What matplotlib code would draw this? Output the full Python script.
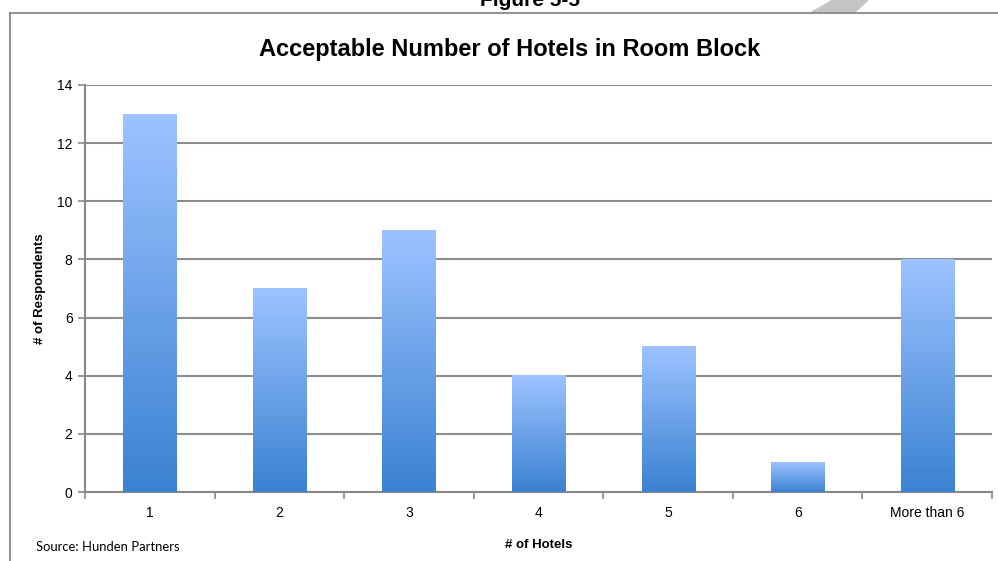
import numpy as np
import matplotlib.pyplot as plt
from matplotlib.colors import LinearSegmentedColormap
from matplotlib.patches import Polygon

# Chart data
categories = ['1', '2', '3', '4', '5', '6', 'More than 6']
respondents = [13, 7, 9, 4, 5, 1, 8]

plt.rcParams['font.family'] = ['Liberation Sans', 'DejaVu Sans']

fig = plt.figure(figsize=(9.98, 5.61), dpi=100)
W, H = 998, 561

def fx(px):
    return px / W

def fy(py):
    return 1 - py / H

# outer frame (top + left lines) and decorative slash
fig.add_artist(plt.Line2D([fx(10), fx(998)], [fy(13), fy(13)], color='#888888', lw=1.3))
fig.add_artist(plt.Line2D([fx(10), fx(10)], [fy(13), fy(561)], color='#888888', lw=1.3))
fig.add_artist(Polygon([[fx(833), fy(0)], [fx(868), fy(0)], [fx(855), fy(12)], [fx(812), fy(12)]],
                       closed=True, color='#c4c4c4', transform=fig.transFigure))
fig.text(fx(530), fy(6), 'Figure 5-5', ha='center', va='baseline', fontsize=15, fontweight='bold')

fig.text(fx(510), fy(49), 'Acceptable Number of Hotels in Room Block', ha='center', va='center',
         fontsize=17, fontweight='bold')
fig.text(fx(36), fy(551), 'Source: Hunden Partners', ha='left', va='baseline', fontsize=9.4,
         family=['Lato', 'DejaVu Sans'])

ax = fig.add_axes([fx(85), fy(492), fx(992) - fx(85), fy(85) - fy(492)])

cmap = LinearSegmentedColormap.from_list('barfade', ['#3A82D2', '#9DC3FF'])
grad = np.linspace(0, 1, 256).reshape(-1, 1)
width = 0.41
x = np.arange(len(categories))
for xi, v in zip(x, respondents):
    ax.imshow(grad, cmap=cmap, origin='lower', aspect='auto', interpolation='nearest',
              extent=[xi - width / 2, xi + width / 2, 0, v], zorder=3)

ax.set_xlim(-0.5, len(categories) - 0.5)
ax.set_ylim(0, 14)
ax.set_yticks(range(0, 15, 2))
ax.yaxis.grid(True, color='#8c8c8c', lw=1.5)
ax.set_axisbelow(True)

ax.set_xticks(np.arange(-0.5, len(categories), 1))
ax.set_xticklabels([])
ax.set_xticks(x, minor=True)
ax.set_xticklabels(categories, minor=True)
ax.tick_params(axis='x', which='minor', length=0, pad=10, labelsize=10)
ax.tick_params(axis='x', which='major', length=5, color='#888888', width=1.2)
ax.tick_params(axis='y', length=5, color='#888888', width=1.2, labelsize=10, pad=4)

for s in ['top', 'right']:
    ax.spines[s].set_visible(False)
for s in ['left', 'bottom']:
    ax.spines[s].set_color('#888888')
    ax.spines[s].set_linewidth(1.5)

ax.set_xlabel('# of Hotels', fontsize=9.5, fontweight='bold', labelpad=14)
ax.set_ylabel('# of Respondents', fontsize=9.5, fontweight='bold', labelpad=8)

fig.savefig('out.png', dpi=100)
